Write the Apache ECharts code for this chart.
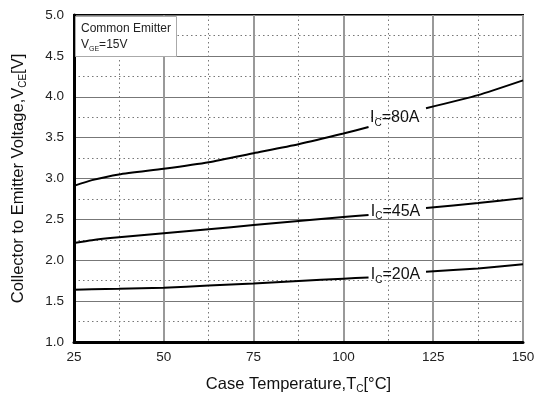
<!DOCTYPE html>
<html>
<head>
<meta charset="utf-8">
<script src="https://cdn.jsdelivr.net/npm/echarts@6/dist/echarts.min.js"></script>
<style>
  html, body { margin: 0; padding: 0; background: #fff; }
  #chart { width: 535px; height: 394px; }
</style>
</head>
<body>
<div id="chart"></div>
<script>
// case temperature (°C); null marks the gap where the curve label sits
const temps = [25, 30, 37.5, 50, 62.5, 75, 87.5, 100, 107, null, 123, 137.5, 150];
const vce80 = [2.91, 2.98, 3.05, 3.12, 3.20, 3.31, 3.42, 3.55, 3.63, null, 3.86, 4.02, 4.20];
const vce45 = [2.21, 2.245, 2.28, 2.33, 2.38, 2.43, 2.48, 2.53, 2.555, null, 2.64, 2.70, 2.76];
const vce20 = [1.64, 1.645, 1.65, 1.665, 1.69, 1.715, 1.745, 1.775, 1.79, null, 1.86, 1.90, 1.95];

const curveNames = ["80A", "45A", "20A"];
const labelAt = [[114.3, 3.74], [114.5, 2.60], [114.5, 1.82]];

const xTicks = [25, 50, 75, 100, 125, 150];
const yTicks = [1.0, 1.5, 2.0, 2.5, 3.0, 3.5, 4.0, 4.5, 5.0];

const FONT = "Arial, 'Liberation Sans', sans-serif";

function pairs(ys) {
  return temps.map((t, i) => (t === null || ys[i] === null ? ["-", "-"] : [t, ys[i]]));
}

const subRich = {
  m: { fontSize: 16, fontFamily: FONT, color: "#111", lineHeight: 20 },
  s: { fontSize: 10, fontFamily: FONT, color: "#111", lineHeight: 9, verticalAlign: "bottom" }
};

function curve(ys, idx) {
  return {
    type: "line",
    data: pairs(ys),
    smooth: 0.2,
    showSymbol: false,
    connectNulls: false,
    lineStyle: { color: "#000", width: 2 },
    markPoint: {
      symbol: "circle",
      symbolSize: 0,
      silent: true,
      data: [{ coord: labelAt[idx] }],
      label: {
        show: true,
        position: "inside",
        formatter: "{m|I}{s|C}{m|=" + curveNames[idx] + "}",
        rich: subRich
      }
    }
  };
}

const nameRich = {
  m: { fontSize: 16.5, fontFamily: FONT, color: "#111", lineHeight: 20 },
  s: { fontSize: 10, fontFamily: FONT, color: "#111", lineHeight: 9, verticalAlign: "bottom" }
};

const chart = echarts.init(document.getElementById("chart"), null, { renderer: "canvas" });

chart.setOption({
  animation: false,
  backgroundColor: "#fff",
  title: {
    text: "Common Emitter\n{v|V}{s|GE}{v|=15V}",
    left: 75,
    top: 16,
    padding: [5, 6, 4, 6],
    backgroundColor: "#fff",
    borderColor: "#aaa",
    borderWidth: 1,
    textStyle: {
      fontSize: 12,
      fontWeight: "normal",
      fontFamily: FONT,
      color: "#222",
      lineHeight: 16,
      rich: {
        v: { fontSize: 12, fontFamily: FONT, color: "#222", lineHeight: 16 },
        s: { fontSize: 7, fontFamily: FONT, color: "#222", lineHeight: 8, verticalAlign: "bottom" }
      }
    }
  },
  grid: {
    left: 74, right: 12, top: 15, bottom: 52,
    outerBoundsMode: "none",
    show: true, borderColor: "#000", borderWidth: 2
  },
  xAxis: {
    type: "value",
    min: xTicks[0],
    max: xTicks[xTicks.length - 1],
    interval: 25,
    name: "Case Temperature,{m|T}{s|C}{m|[°C]}",
    nameLocation: "middle",
    nameGap: 32,
    nameTextStyle: { fontSize: 16.5, fontFamily: FONT, color: "#111", rich: nameRich },
    axisLine: { show: true, onZero: false, lineStyle: { color: "#000", width: 3 } },
    axisTick: { show: false },
    axisLabel: { fontSize: 13.5, fontFamily: FONT, color: "#222", margin: 8 },
    splitLine: { show: true, lineStyle: { color: "#999", width: 2 } },
    minorTick: { show: false, splitNumber: 2 },
    minorSplitLine: { show: true, lineStyle: { color: "#777", width: 1, type: [1.5, 3] } }
  },
  yAxis: {
    type: "value",
    min: yTicks[0],
    max: yTicks[yTicks.length - 1],
    interval: 0.5,
    name: "Collector to Emitter Voltage,{m|V}{s|CE}{m|[V]}",
    nameLocation: "middle",
    nameGap: 46,
    nameTextStyle: { fontSize: 16.5, fontFamily: FONT, color: "#111", rich: nameRich },
    axisLine: { show: true, onZero: false, lineStyle: { color: "#000", width: 3 } },
    axisTick: { show: false },
    axisLabel: {
      fontSize: 13.5, fontFamily: FONT, color: "#222", margin: 10,
      formatter: (v) => Number(v).toFixed(1)
    },
    splitLine: { show: true, lineStyle: { color: "#777", width: 1 } },
    minorTick: { show: false, splitNumber: 2 },
    minorSplitLine: { show: true, lineStyle: { color: "#777", width: 1, type: [1.5, 3] } }
  },
  series: [curve(vce80, 0), curve(vce45, 1), curve(vce20, 2)]
});
</script>
</body>
</html>
